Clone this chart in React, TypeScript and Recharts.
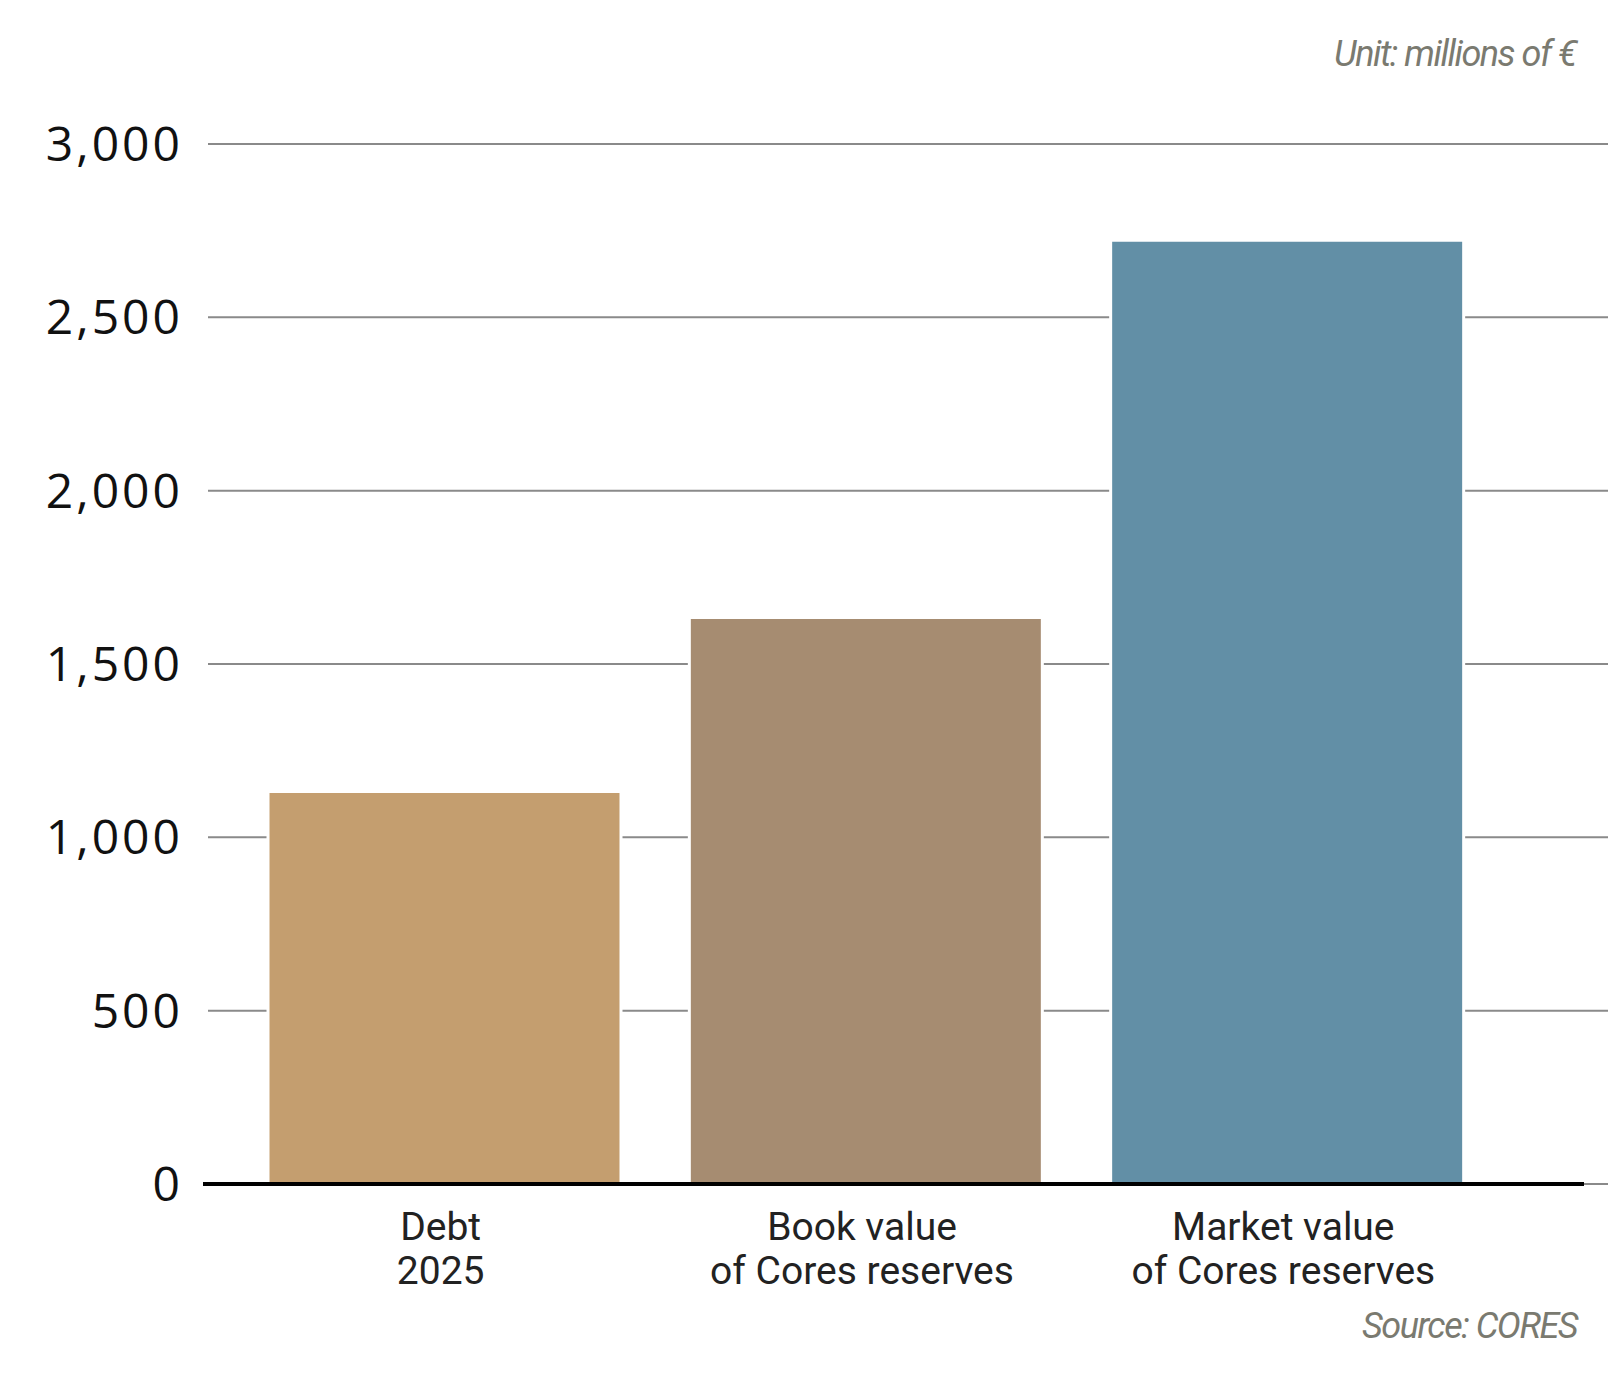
import React from "react";
import { Bar, BarChart, CartesianGrid, Cell, ReferenceLine, XAxis, YAxis } from "recharts";

// labels under each bar (two lines each)
const categories = ["Debt", "Book value", "Market value"];
const subLabels = ["2025", "of Cores reserves", "of Cores reserves"];
// millions of euro
const values = [1132, 1634, 2722];
const barColors = ["#C49E6F", "#A68C71", "#628FA6"];
const yTicks = [0, 500, 1000, 1500, 2000, 2500, 3000];

const W = 1608;
const H = 1375;

const data = categories.map((name, i) => ({ name, sub: subLabels[i], value: values[i] }));

function YTick(props: any) {
  const { y, payload } = props;
  return (
    <text
      x={183}
      y={y + 17}
      textAnchor="end"
      fontFamily="'Open Sans', sans-serif"
      fontSize={48}
      letterSpacing={3}
      fill="#111"
    >
      {Number(payload.value).toLocaleString("en-US")}
    </text>
  );
}

function XTick(props: any) {
  const { x, y, index } = props;
  const common = {
    textAnchor: "middle" as const,
    fontFamily: "Roboto, sans-serif",
    fontSize: 39,
    fill: "#222",
  };
  return (
    <g>
      <text x={x - 4} y={y + 56} {...common}>
        {categories[index]}
      </text>
      <text x={x - 4} y={y + 100} {...common}>
        {subLabels[index]}
      </text>
    </g>
  );
}

function AxisLine(props: any) {
  const { x1, x2, y1 } = props;
  return <line x1={x1 - 5} x2={x2 - 24} y1={y1} y2={y1} stroke="#000" strokeWidth={4} />;
}

export default function App() {
  return (
    <div style={{ position: "relative", width: W, height: H, background: "#fff" }}>
      <style>{`body{margin:0}`}</style>
      <BarChart
        width={W}
        height={H}
        data={data}
        margin={{ top: 144, right: 0, bottom: 0, left: 0 }}
        barCategoryGap={34}
      >
        <CartesianGrid vertical={false} stroke="#8a8a8a" strokeWidth={2} />
        <YAxis
          type="number"
          domain={[0, 3000]}
          ticks={yTicks}
          width={208}
          axisLine={false}
          tickLine={false}
          tick={<YTick />}
        />
        <XAxis
          dataKey="name"
          height={191}
          axisLine={false}
          tickLine={false}
          tickSize={0}
          tickMargin={0}
          interval={0}
          padding={{ left: 26, right: 110 }}
          tick={<XTick />}
        />
        <Bar dataKey="value" isAnimationActive={false} stroke="#fff" strokeWidth={3}>
          {data.map((d, i) => (
            <Cell key={d.name} fill={barColors[i]} />
          ))}
        </Bar>
        <ReferenceLine y={0} shape={<AxisLine />} />
      </BarChart>
      <svg
        width={W}
        height={H}
        style={{ position: "absolute", left: 0, top: 0, pointerEvents: "none" }}
      >
        <text
          x={1576}
          y={66}
          textAnchor="end"
          fontFamily="Roboto, sans-serif"
          fontStyle="italic"
          fontSize={36}
          letterSpacing={-1.5}
          fill="#7a7a70"
        >
          Unit: millions of €
        </text>
        <text
          x={1577}
          y={1338}
          textAnchor="end"
          fontFamily="Roboto, sans-serif"
          fontStyle="italic"
          fontSize={36}
          letterSpacing={-1.5}
          fill="#7a7a70"
        >
          Source: CORES
        </text>
      </svg>
    </div>
  );
}
